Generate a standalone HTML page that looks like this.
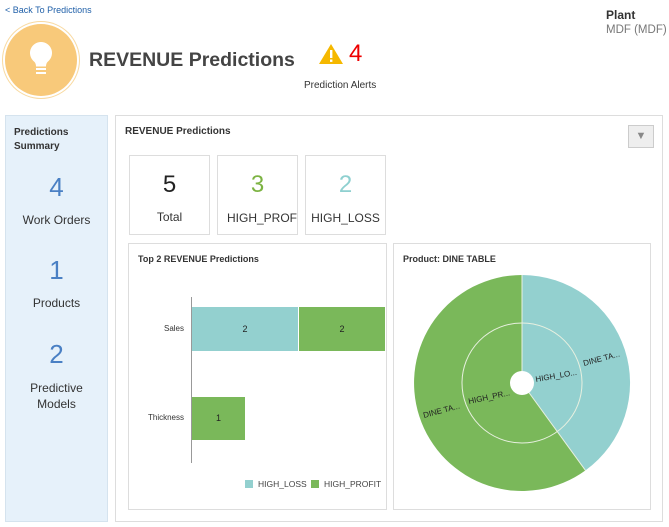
<!DOCTYPE html>
<html><head><style>
body{margin:0;width:669px;height:527px;background:#fff;font-family:"Liberation Sans",sans-serif;position:relative;overflow:hidden;color:#333}
.a{position:absolute;white-space:nowrap}
.box{position:absolute;border:1px solid #ddd;background:#fff}
</style></head><body>
<div class="a" style="left:5px;top:5px;font-size:9px;color:#1f5fa8">&lt; Back To Predictions</div>
<div class="a" style="left:5px;top:24px;width:72px;height:72px;border-radius:50%;background:#f8c97a;box-shadow:0 0 0 2px #fff,0 0 0 3px #f8d9a0"></div>
<svg class="a" style="left:25px;top:40px" width="32" height="40" viewBox="0 0 32 40"><path d="M16 2a11 11 0 0 0-7 19.5c1.5 1.3 2 3 2 5h10c0-2 .5-3.7 2-5A11 11 0 0 0 16 2z" fill="#fff"/><rect x="11" y="28" width="10" height="2" fill="#fff"/><rect x="11" y="32" width="10" height="2" fill="#fff"/></svg>
<div class="a" style="left:89px;top:49px;font-size:19.5px;font-weight:bold;color:#444">REVENUE Predictions</div>
<svg class="a" style="left:318px;top:43px" width="26" height="22"><path d="M13 1L25 21H1z" fill="#f5b800"/><rect x="12" y="7" width="2.4" height="8" fill="#fff"/><rect x="12" y="16.5" width="2.4" height="2.4" fill="#fff"/></svg>
<div class="a" style="left:349px;top:40px;font-size:24px;color:#e00">4</div>
<div class="a" style="left:304px;top:80px;font-size:10px;color:#333">Prediction Alerts</div>
<div class="a" style="left:606px;top:8px;font-size:12px;font-weight:bold;color:#333">Plant</div>
<div class="a" style="left:606px;top:24px;font-size:11.5px;color:#777">MDF (MDF)</div>

<div class="a" style="left:5px;top:115px;width:101px;height:405px;background:#e6f1fa;border:1px solid #d5e3ee"></div>
<div class="a" style="left:14px;top:126px;font-size:10px;font-weight:bold;line-height:14px;color:#333">Predictions<br>Summary</div>
<div class="a" style="left:6px;width:101px;text-align:center;top:172px;font-size:26px;color:#4a80c4">4</div>
<div class="a" style="left:6px;width:101px;text-align:center;top:213px;font-size:12px">Work Orders</div>
<div class="a" style="left:6px;width:101px;text-align:center;top:255px;font-size:26px;color:#4a80c4">1</div>
<div class="a" style="left:6px;width:101px;text-align:center;top:296px;font-size:12px">Products</div>
<div class="a" style="left:6px;width:101px;text-align:center;top:339px;font-size:26px;color:#4a80c4">2</div>
<div class="a" style="left:6px;width:101px;text-align:center;top:380px;font-size:12px;line-height:16px">Predictive<br>Models</div>

<div class="box" style="left:115px;top:115px;width:546px;height:405px"></div>
<div class="a" style="left:125px;top:126px;font-size:10px;font-weight:bold">REVENUE Predictions</div>
<div class="a" style="left:628px;top:125px;width:24px;height:21px;background:#eee;border:1px solid #ccc;color:#888;font-size:11px;text-align:center;line-height:21px">▼</div>

<div class="box" style="left:129px;top:155px;width:79px;height:78px"></div>
<div class="a" style="left:129px;width:81px;text-align:center;top:171px;font-size:24px;color:#222">5</div>
<div class="a" style="left:129px;width:81px;text-align:center;top:210px;font-size:12px">Total</div>
<div class="box" style="left:217px;top:155px;width:79px;height:78px;overflow:hidden"><div style="text-align:center;margin-top:15px;font-size:24px;color:#7cb342">3</div><div style="margin-top:12px;padding-left:9px;font-size:12px;white-space:nowrap">HIGH_PROFIT</div></div>
<div class="box" style="left:305px;top:155px;width:79px;height:78px;overflow:hidden"><div style="text-align:center;margin-top:15px;font-size:24px;color:#8fd0d0">2</div><div style="margin-top:12px;text-align:center;font-size:12px;white-space:nowrap">HIGH_LOSS</div></div>

<div class="box" style="left:128px;top:243px;width:257px;height:265px"></div>
<div class="a" style="left:138px;top:254px;font-size:9px;font-weight:bold">Top 2 REVENUE Predictions</div>
<div class="a" style="left:191px;top:297px;width:1px;height:166px;background:#999"></div>
<div class="a" style="left:192px;top:307px;width:106px;height:44px;background:#93d0cf;font-size:9px;text-align:center;line-height:44px;color:#222">2</div>
<div class="a" style="left:299px;top:307px;width:86px;height:44px;background:#7ab85a;font-size:9px;text-align:center;line-height:44px;color:#222">2</div>
<div class="a" style="left:192px;top:397px;width:53px;height:43px;background:#7ab85a;font-size:9px;text-align:center;line-height:43px;color:#222">1</div>
<div class="a" style="left:120px;width:64px;text-align:right;top:324px;font-size:8px">Sales</div>
<div class="a" style="left:120px;width:64px;text-align:right;top:413px;font-size:8px">Thickness</div>
<div class="a" style="left:245px;top:480px;width:8px;height:8px;background:#93d0cf"></div>
<div class="a" style="left:258px;top:479px;font-size:8.5px;color:#444">HIGH_LOSS</div>
<div class="a" style="left:311px;top:480px;width:8px;height:8px;background:#7ab85a"></div>
<div class="a" style="left:324px;top:479px;font-size:8.5px;color:#444">HIGH_PROFIT</div>

<div class="box" style="left:393px;top:243px;width:256px;height:265px"></div>
<div class="a" style="left:403px;top:254px;font-size:9px;font-weight:bold">Product: DINE TABLE</div>
<svg class="a" style="left:0;top:0" width="669" height="527">
<path d="M522 383L522 275A108 108 0 0 1 585.5 470.4Z" fill="#93d0cf"/>
<path d="M522 383L585.5 470.4A108 108 0 1 1 522 275Z" fill="#7ab85a"/>
<circle cx="522" cy="383" r="60" fill="none" stroke="#e8f0e0" stroke-width="1"/>
<line x1="522" y1="383" x2="585.5" y2="470.4" stroke="#e8f0e0" stroke-width="1"/>
<line x1="522" y1="275" x2="522" y2="383" stroke="#e8f0e0" stroke-width="1"/>
<circle cx="522" cy="383" r="12" fill="#fff"/>
<g font-family="Liberation Sans" font-size="8" fill="#222">
<text x="536" y="382" transform="rotate(-10 536 382)">HIGH_LO...</text>
<text x="584" y="366" transform="rotate(-15 584 366)">DINE TA...</text>
<text x="469" y="404" transform="rotate(-12 469 404)">HIGH_PR...</text>
<text x="424" y="418" transform="rotate(-15 424 418)">DINE TA...</text>
</g>
</svg>
</body></html>
